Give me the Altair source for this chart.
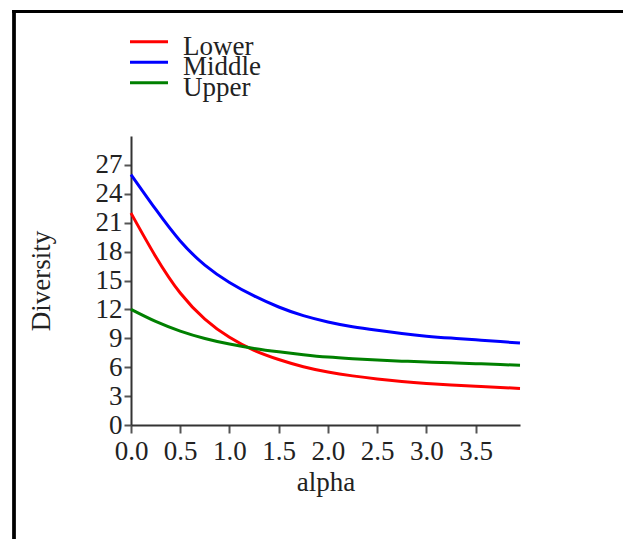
import altair as alt
import pandas as pd

# Diversity profiles (Hill numbers) for three strata over the order alpha
alpha = [0.0, 0.25, 0.5, 0.75, 1.0, 1.25, 1.5, 1.75, 2.0, 2.25, 2.5, 2.75,
         3.0, 3.25, 3.5, 3.75, 3.95]
lower = [22.0, 17.5, 13.7, 11.0, 9.1, 7.75, 6.8, 6.05, 5.5, 5.1, 4.78, 4.52,
         4.32, 4.16, 4.02, 3.9, 3.8]
middle = [26.0, 22.4, 19.1, 16.6, 14.8, 13.4, 12.25, 11.35, 10.7, 10.2, 9.83, 9.5,
          9.22, 9.02, 8.85, 8.66, 8.5]
upper = [12.0, 10.75, 9.75, 8.98, 8.4, 7.95, 7.6, 7.3, 7.05, 6.88, 6.74, 6.63,
         6.54, 6.45, 6.37, 6.28, 6.2]

series = ["Lower", "Middle", "Upper"]
colors = ["#ff0000", "#0000ff", "#008000"]
x_ticks = [0.0, 0.5, 1.0, 1.5, 2.0, 2.5, 3.0, 3.5]
y_ticks = [0, 3, 6, 9, 12, 15, 18, 21, 24, 27]

rows = []
for name, vals in zip(series, [lower, middle, upper]):
    for a, v in zip(alpha, vals):
        rows.append({"alpha": a, "Diversity": v, "stratum": name})
df = pd.DataFrame(rows)
legend_df = pd.DataFrame({"stratum": series})

FONT = "Liberation Serif"
FS = 27
W, H = 389, 289
LEFT, TOP = 131, 136

color_scale = alt.Scale(domain=series, range=colors)

lines = alt.Chart(df).mark_line(strokeWidth=3, interpolate="natural").encode(
    x=alt.X("alpha:Q",
            scale=alt.Scale(domain=[0, 3.95], nice=False, zero=False),
            axis=alt.Axis(values=x_ticks, format=".1f", title="alpha",
                          grid=False, tickSize=8, labelPadding=5,
                          labelFlush=False, labelOverlap=False,
                          titlePadding=5)),
    y=alt.Y("Diversity:Q",
            scale=alt.Scale(domain=[0, 30], nice=False),
            axis=alt.Axis(values=y_ticks, format="d", title="Diversity",
                          grid=False, tickSize=7, labelPadding=2,
                          labelFlush=False, labelOverlap=False,
                          titlePadding=40)),
    color=alt.Color("stratum:N", scale=color_scale, legend=None),
)

# key above the plot: one short line and a label per stratum, stacked tightly
key_y = alt.Y("stratum:N", axis=None,
              scale=alt.Scale(type="point", domain=series,
                              range=[41.7 - TOP, 82.7 - TOP], padding=0))
key_lines = alt.Chart(legend_df).mark_rule(strokeWidth=3).encode(
    y=key_y, x=alt.value(130 - LEFT), x2=alt.value(168 - LEFT),
    color=alt.Color("stratum:N", scale=color_scale, legend=None),
)
key_text = alt.Chart(legend_df).mark_text(
    align="left", baseline="alphabetic", dy=13, font=FONT, fontSize=FS,
    color="#222222",
).encode(y=key_y, x=alt.value(183 - LEFT), text="stratum:N")

# figure frame (left and top edges)
frame_left = alt.Chart(legend_df).mark_rule(color="black", strokeWidth=3).encode(
    x=alt.value(14 - LEFT), y=alt.value(10 - TOP), y2=alt.value(539 - TOP + 5))
frame_top = alt.Chart(legend_df).mark_rule(color="black", strokeWidth=3).encode(
    y=alt.value(11.5 - TOP), x=alt.value(12.5 - LEFT), x2=alt.value(623 - LEFT + 5))

chart = alt.layer(frame_left, frame_top, lines, key_lines, key_text).resolve_scale(
    y="independent"
).properties(
    width=W, height=H,
    background="white",
    autosize=alt.AutoSizeParams(type="none"),
    padding={"left": LEFT, "top": TOP, "right": 623 - LEFT - W, "bottom": 539 - TOP - H},
).configure_view(stroke=None).configure_axis(
    labelFont=FONT, titleFont=FONT, labelFontSize=FS, titleFontSize=FS,
    labelColor="#222222", titleColor="#222222", titleFontWeight="normal",
    domainColor="#333333", tickColor="#555555", domainWidth=2, tickWidth=2,
)

chart.save("out.html", embed_options={"renderer": "svg", "actions": False})
